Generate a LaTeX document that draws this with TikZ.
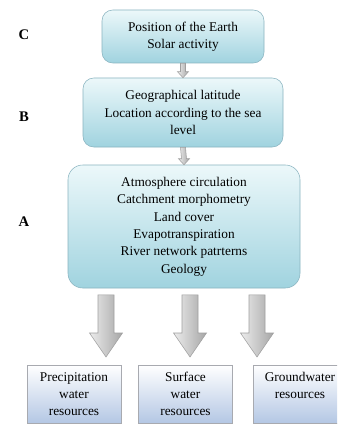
\documentclass[tikz,border=0pt]{standalone}
\usepackage{fontspec}
\setmainfont{Liberation Serif}
\usepackage{tikz}
\usetikzlibrary{positioning, calc}
\definecolor{aquatop}{RGB}{236, 248, 250}
\definecolor{aquabot}{RGB}{160, 211, 223}
\definecolor{aquaedge}{RGB}{138, 180, 192}
\definecolor{bluebot}{RGB}{180, 199, 228}
\definecolor{greyedge}{RGB}{168, 170, 176}
\tikzset{
    factor/.style={draw=aquaedge, top color=aquatop, bottom color=aquabot, rounded corners=8pt, align=center, inner sep=0pt, font=\fontsize{10}{13}\selectfont},
    resource/.style={draw=greyedge, top color=white, bottom color=bluebot, align=center, inner sep=0pt, minimum width=70.5pt, minimum height=43.5pt, font=\fontsize{10}{12.5}\selectfont},
    tier/.style={font=\bfseries\fontsize{11}{13}\selectfont},
    flow/.style={draw=gray!75, left color=gray!15, right color=gray!70},
}
% from, to, half shaft, half head, head length
\newcommand{\flowarrow}[5]{
    \path[flow] ($(#1)+(-#3,0)$) -- ($(#2)+(-#3,-#5)$) -- ($(#2)+(-#4,-#5)$) -- (#2)
        -- ($(#2)+(#4,-#5)$) -- ($(#2)+(#3,-#5)$) -- ($(#1)+(#3,0)$) -- cycle;
}
\begin{document}
\begin{tikzpicture}[x=0.75pt, y=-0.75pt]
    \clip (0,0) rectangle (337,428);
    \fill[white] (0,0) rectangle (337,428);

    \node[tier] (lC) at (24, 35) {C};
    \node[tier] (lB) at (24, 117) {B};
    \node[tier] (lA) at (24, 222) {A};

    \node[factor, minimum width=121.5pt, minimum height=39.75pt] (boxC) at (183, 36.5)
        {Position of the Earth\\Solar activity};
    \node[factor, minimum width=150pt, minimum height=51.75pt] (boxB) at (183, 112.5)
        {Geographical latitude\\Location according to the sea\\level};
    \node[factor, rounded corners=11pt, minimum width=174pt, minimum height=92.25pt] (boxA) at (184, 226.5)
        {Atmosphere circulation\\Catchment morphometry\\Land cover\\Evapotranspiration\\River network patrterns\\Geology};

    \node[resource] (res1) at (74, 394) {Precipitation\\water\\resources};
    \node[resource] (res2) at (185.5, 394) {Surface\\water\\resources};
    \node[resource] (res3) at (300, 394) {Groundwater\\resources\\\mbox{}};

    \coordinate (tip1) at (106, 357);
    \coordinate (tip2) at (190, 357);
    \coordinate (tip3) at (257, 357);
    \coordinate (top1) at ([yshift=-5pt]boxA.south -| tip1);
    \coordinate (top2) at ([yshift=-5pt]boxA.south -| tip2);
    \coordinate (top3) at ([yshift=-5pt]boxA.south -| tip3);

    \flowarrow{boxC.south}{boxB.north}{2.5}{5.5}{6}
    \flowarrow{boxB.south}{boxA.north}{2.5}{5.5}{6}
    \flowarrow{top1}{tip1}{8}{16.5}{24}
    \flowarrow{top2}{tip2}{8}{16.5}{24}
    \flowarrow{top3}{tip3}{8}{16.5}{24}
\end{tikzpicture}
\end{document}
